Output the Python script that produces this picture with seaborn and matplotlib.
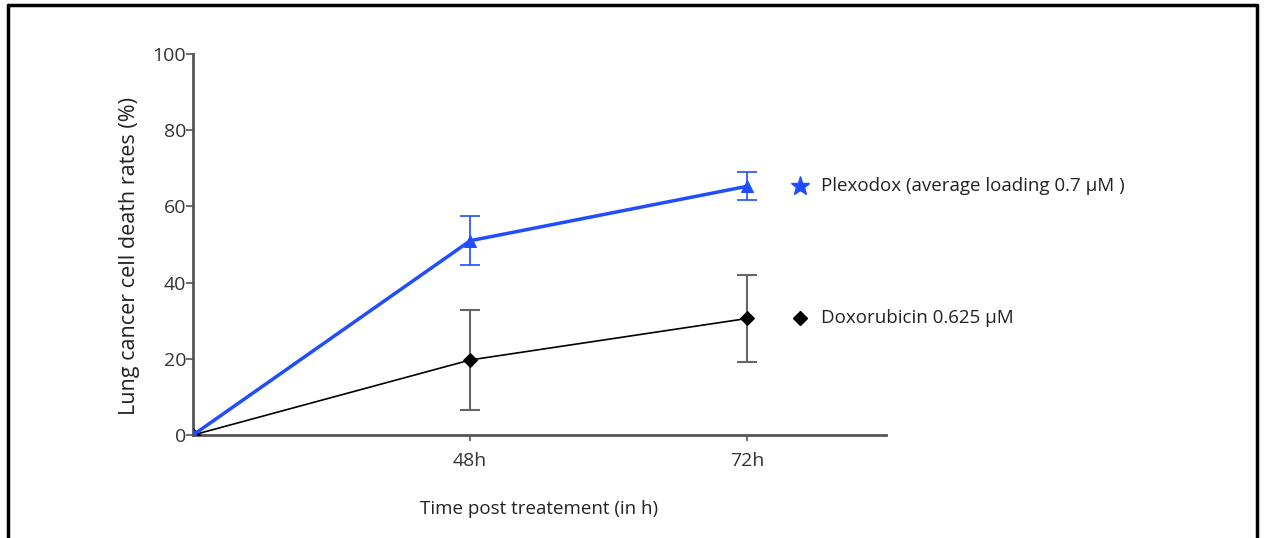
import pandas as pd
import numpy as np
import matplotlib.pyplot as plt
import seaborn as sns
from matplotlib.lines import Line2D
import matplotlib.transforms as mtransforms

# data
time_labels = ["0h", "48h", "72h"]
plexodox_mean = [0, 51.0, 65.3]
plexodox_err = [0, 6.4, 3.7]
doxo_mean = [0, 19.7, 30.6]
doxo_err = [0, 13.1, 11.4]
series_names = ["Plexodox (average loading 0.7 \u00b5M )", "Doxorubicin 0.625 \u00b5M"]

blue = "#1f4dff"
grey = "#555555"

sns.set_style("white")
plt.rcParams['font.family'] = ['Open Sans', 'DejaVu Sans']

pos = np.arange(len(time_labels))
df = pd.DataFrame({
    "pos": np.concatenate([pos, pos]),
    "value": plexodox_mean + doxo_mean,
    "series": [series_names[0]] * len(pos) + [series_names[1]] * len(pos),
})

fig = plt.figure(figsize=(12.64, 5.38), dpi=100)
ax = fig.add_axes([0.1527, 0.1914, 0.5483, 0.7082])

# error bars first so lines sit on top
ax.errorbar(pos, doxo_mean, yerr=doxo_err, fmt="none", ecolor="#666666",
            elinewidth=1.5, capsize=7, capthick=1.5, zorder=2)
ax.errorbar(pos, plexodox_mean, yerr=plexodox_err, fmt="none", ecolor=blue,
            elinewidth=1.2, capsize=7, capthick=1.2, zorder=2)

sns.lineplot(data=df[df.series == series_names[1]], x="pos", y="value", ax=ax,
             color="black", linewidth=1.2, marker="D", markersize=7,
             markeredgecolor="black", zorder=3, legend=False)
sns.lineplot(data=df[df.series == series_names[0]], x="pos", y="value", ax=ax,
             color=blue, linewidth=2.5, marker="^", markersize=9,
             markeredgecolor=blue, zorder=4, legend=False)

ax.set_xlim(0, 2.5)
ax.set_ylim(0, 100)
ax.set_xticks(pos[1:])
ax.set_xticklabels(time_labels[1:], fontsize=14, color="#333333")
ax.set_yticks([0, 20, 40, 60, 80, 100])
ax.set_yticklabels(["0", "20", "40", "60", "80", "100"], fontsize=14, color="#333333")
ax.tick_params(axis="y", direction="out", length=5, width=1.2, color=grey, left=True, pad=0)
ax.tick_params(axis="x", direction="out", length=4, width=1.2, color=grey, bottom=True, pad=8)
ax.set_xlabel("Time post treatement (in h)", fontsize=13.5, color="#222222", labelpad=22)
ax.set_ylabel("Lung cancer cell death rates (%)", fontsize=15.5, color="#222222")
ax.yaxis.set_label_coords(-0.076, 0.47)

sns.despine(ax=ax)
for s in ["left", "bottom"]:
    ax.spines[s].set_color(grey)
    ax.spines[s].set_linewidth(2)

# labels at the end of each line
trans = mtransforms.blended_transform_factory(ax.transAxes, ax.transData)
ax.plot([0.876], [plexodox_mean[-1]], marker="*", color=blue, markersize=14,
        transform=trans, clip_on=False)
ax.text(0.906, plexodox_mean[-1], series_names[0], transform=trans,
        va="center", ha="left", fontsize=13.5, color="#222222")
ax.plot([0.876], [doxo_mean[-1]], marker="D", color="black", markersize=7,
        transform=trans, clip_on=False)
ax.text(0.906, doxo_mean[-1], series_names[1], transform=trans,
        va="center", ha="left", fontsize=13.5, color="#222222")

# black frame around the picture (open at the bottom)
for xs, ys in [([7.5, 7.5], [0, 533]), ([1256.5, 1256.5], [0, 533]), ([7.5, 1256.5], [533, 533])]:
    fig.add_artist(Line2D([x / 1264 for x in xs], [y / 538 for y in ys],
                          color="black", linewidth=2.5))

fig.savefig("out.png", dpi=100)
